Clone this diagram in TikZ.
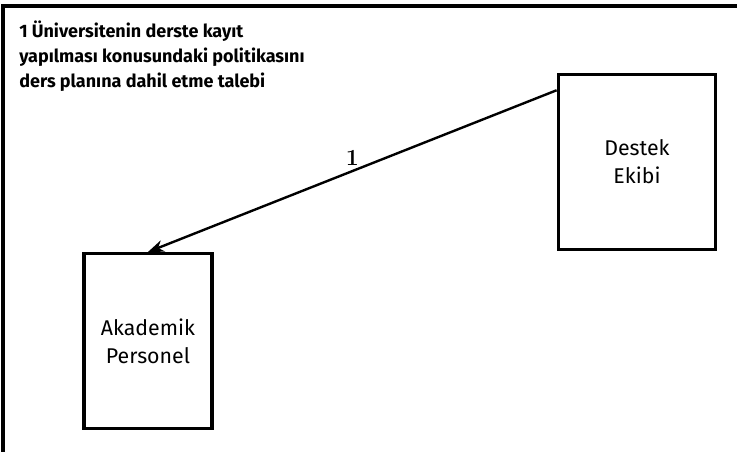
\documentclass[tikz,border=0pt]{standalone}
\usepackage{fontspec}
\setsansfont{Fira Sans}
\usetikzlibrary{arrows.meta}
\begin{document}
\begin{tikzpicture}[x=0.75pt,y=-0.75pt,
  actor/.style={draw,line width=2.6pt,minimum width=96pt,minimum height=131pt,
    align=center,font=\sffamily\fontsize{16}{21}\selectfont},
  flow/.style={line width=1.8pt,-{Stealth[length=12pt,width=9pt]}}]
\useasboundingbox (0,0) rectangle (737,452);
% frame
\draw[line width=3pt] (3,452) -- (3,6) -- (737,6);
\node[anchor=north west,align=left,font=\sffamily\bfseries\fontsize{13.5}{18.75}\selectfont,inner sep=0pt] (talep) at (19,21)
  {1 Üniversitenin derste kayıt\\yapılması konusundaki politikasını\\ders planına dahil etme talebi};
\node[actor,minimum width=118pt] (destek) at (637,162) {Destek\\Ekibi};
\node[actor] (akademik) at (148,341) {Akademik\\Personel};
\draw[flow] ([yshift=-13pt]destek.north west) -- (akademik.north)
  node[pos=0.5,above,font=\bfseries\LARGE] {1};
\end{tikzpicture}
\end{document}
